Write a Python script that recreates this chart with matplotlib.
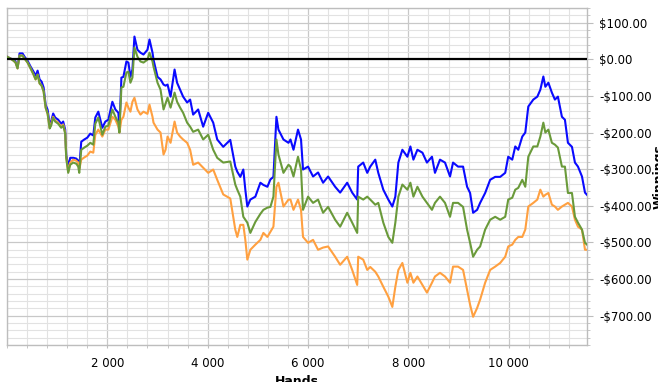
import matplotlib
matplotlib.use("Agg")
import matplotlib.pyplot as plt
from matplotlib.ticker import MultipleLocator, FuncFormatter, FixedLocator

# hands played and winnings (dollars) for the three lines
hands = [0, 70, 130, 170, 210, 250, 310, 350, 410, 470,
         530, 570, 610, 650, 690, 730, 770, 810, 850, 880,
         920, 960, 1020, 1080, 1120, 1160, 1180, 1220, 1260, 1320,
         1380, 1420, 1440, 1480, 1540, 1600, 1660, 1720, 1760, 1820,
         1900, 1960, 2020, 2100, 2160, 2220, 2240, 2280, 2320, 2380,
         2420, 2460, 2500, 2540, 2600, 2660, 2720, 2800, 2840, 2900,
         2920, 3000, 3060, 3120, 3160, 3200, 3260, 3340, 3390, 3450,
         3510, 3590, 3650, 3710, 3810, 3910, 4010, 4110, 4190, 4310,
         4450, 4550, 4590, 4650, 4710, 4750, 4790, 4850, 4950, 5050,
         5110, 5190, 5250, 5310, 5370, 5410, 5510, 5610, 5650, 5710,
         5800, 5860, 5900, 6000, 6100, 6200, 6300, 6400, 6540, 6640,
         6780, 6880, 6980, 7000, 7100, 7180, 7240, 7340, 7400, 7500,
         7600, 7680, 7740, 7800, 7880, 7980, 8040, 8100, 8180, 8280,
         8370, 8470, 8530, 8630, 8730, 8830, 8890, 8990, 9090, 9170,
         9230, 9290, 9370, 9430, 9530, 9630, 9730, 9830, 9930, 9990,
         10070, 10130, 10190, 10270, 10330, 10390, 10490, 10570, 10630, 10690,
         10730, 10790, 10860, 10920, 10980, 11060, 11120, 11180, 11260, 11320,
         11380, 11460, 11520, 11560]

blue = [7, 2, -1, -6, -23, 16, 16, 7, -4, -20,
        -34, -45, -31, -55, -61, -77, -124, -138, -178, -170,
        -148, -159, -165, -176, -170, -192, -260, -293, -269, -269,
        -271, -277, -296, -225, -219, -214, -203, -208, -159, -143,
        -187, -170, -165, -116, -137, -146, -192, -50, -48, -6,
        -9, -48, -28, 62, 26, 18, 13, 26, 54, 18,
        -1, -48, -55, -69, -72, -69, -102, -28, -64, -83,
        -102, -118, -110, -151, -137, -184, -146, -173, -219, -239,
        -220, -293, -307, -321, -301, -356, -402, -383, -375, -337,
        -343, -348, -328, -321, -157, -192, -219, -228, -219, -247,
        -192, -219, -301, -293, -320, -309, -337, -320, -348, -364,
        -337, -364, -383, -293, -282, -310, -293, -274, -310, -356,
        -383, -402, -375, -282, -247, -266, -238, -274, -247, -255,
        -282, -266, -310, -274, -282, -320, -282, -293, -293, -348,
        -365, -419, -411, -392, -365, -329, -321, -321, -310, -266,
        -274, -238, -247, -211, -200, -129, -110, -102, -83, -47,
        -75, -64, -91, -110, -102, -157, -165, -228, -239, -282,
        -293, -320, -364, -370]

green = [7, 2, -4, -9, -25, 10, 10, 2, -9, -25,
         -42, -55, -42, -66, -72, -88, -132, -149, -189, -181,
         -159, -170, -176, -187, -181, -203, -269, -310, -288, -282,
         -285, -293, -310, -247, -241, -236, -228, -233, -176, -159,
         -206, -184, -181, -137, -157, -173, -200, -77, -75, -36,
         -34, -64, -50, 32, 7, -6, -9, -1, 18, -6,
         -20, -64, -83, -137, -121, -105, -132, -91, -116, -132,
         -146, -173, -184, -198, -192, -219, -206, -247, -269, -282,
         -279, -342, -356, -375, -430, -438, -446, -474, -444, -422,
         -411, -405, -403, -375, -219, -260, -310, -288, -293, -320,
         -266, -301, -411, -375, -392, -383, -419, -403, -438, -457,
         -419, -446, -474, -375, -383, -375, -383, -397, -392, -446,
         -485, -501, -446, -375, -342, -356, -337, -375, -348, -375,
         -392, -411, -392, -375, -392, -430, -392, -392, -403, -465,
         -501, -539, -520, -511, -465, -438, -430, -438, -430, -383,
         -378, -356, -351, -329, -348, -266, -238, -238, -211, -173,
         -200, -192, -228, -233, -241, -293, -293, -365, -365, -430,
         -446, -465, -501, -506]

orange = [7, 2, -4, -9, -25, 10, 10, 2, -9, -25,
          -42, -55, -42, -66, -72, -88, -132, -149, -187, -176,
          -157, -167, -173, -184, -178, -200, -266, -307, -282, -274,
          -277, -282, -301, -274, -268, -263, -252, -255, -206, -192,
          -211, -192, -192, -157, -165, -184, -200, -165, -157, -118,
          -132, -143, -116, -105, -137, -151, -143, -149, -124, -157,
          -173, -192, -200, -260, -247, -211, -228, -170, -200, -211,
          -219, -228, -247, -288, -282, -296, -310, -301, -329, -369,
          -380, -465, -485, -452, -452, -493, -547, -520, -506, -493,
          -474, -485, -471, -457, -348, -337, -402, -383, -383, -411,
          -383, -411, -485, -501, -493, -520, -514, -511, -539, -561,
          -539, -575, -616, -539, -547, -575, -567, -580, -593, -621,
          -648, -676, -621, -575, -556, -610, -583, -610, -593, -616,
          -637, -610, -593, -583, -593, -610, -566, -566, -575, -629,
          -670, -703, -679, -656, -610, -575, -566, -556, -539, -511,
          -506, -493, -485, -485, -465, -402, -392, -383, -356, -375,
          -370, -365, -397, -402, -411, -402, -397, -392, -402, -438,
          -457, -465, -520, -520]

x_labels = [2000, 4000, 6000, 8000, 10000]

fig = plt.figure(figsize=(6.58, 3.82), dpi=100)
ax = fig.add_axes([7 / 658, 1 - 345 / 382, 580 / 658, 337 / 382])

ax.plot(hands, blue, color="#0a0aff", lw=1.5, zorder=3)
ax.plot(hands, orange, color="#ffa040", lw=1.5, zorder=3)
ax.plot(hands, green, color="#6a9a3a", lw=1.5, zorder=3)
ax.axhline(0, color="black", lw=1.6, zorder=4)

ax.set_xlim(0, 11560)
ax.set_ylim(-780, 140)

ax.xaxis.set_major_locator(FixedLocator(x_labels))
ax.xaxis.set_minor_locator(MultipleLocator(400))
ax.yaxis.set_major_locator(MultipleLocator(100))
ax.yaxis.set_minor_locator(MultipleLocator(20))

ax.xaxis.set_major_formatter(FuncFormatter(lambda v, p: f"{int(v):,}".replace(",", " ")))
ax.yaxis.set_major_formatter(FuncFormatter(
    lambda v, p: ("-" if v < 0 else "") + f"${abs(v):,.2f}"))

ax.yaxis.tick_right()
ax.yaxis.set_label_position("right")

ax.grid(which="major", color="#c8c8c8", lw=0.9, zorder=0)
ax.grid(which="minor", color="#e2e2e2", lw=0.8, zorder=0)
ax.set_axisbelow(True)

for s in ax.spines.values():
    s.set_color("#bdbdbd")
    s.set_linewidth(1.0)

ax.tick_params(axis="y", which="major", length=4, color="#bdbdbd", pad=5, labelsize=8.5)
ax.tick_params(axis="y", which="minor", length=2.5, color="#bdbdbd")
ax.tick_params(axis="x", which="both", length=2.5, color="#bdbdbd", pad=6, labelsize=8.5)

ax.set_xlabel("Hands", fontsize=9, fontweight="bold", labelpad=4)
ax.set_ylabel("Winnings", fontsize=9, fontweight="bold", labelpad=0)

fig.savefig("out.png", dpi=100)
